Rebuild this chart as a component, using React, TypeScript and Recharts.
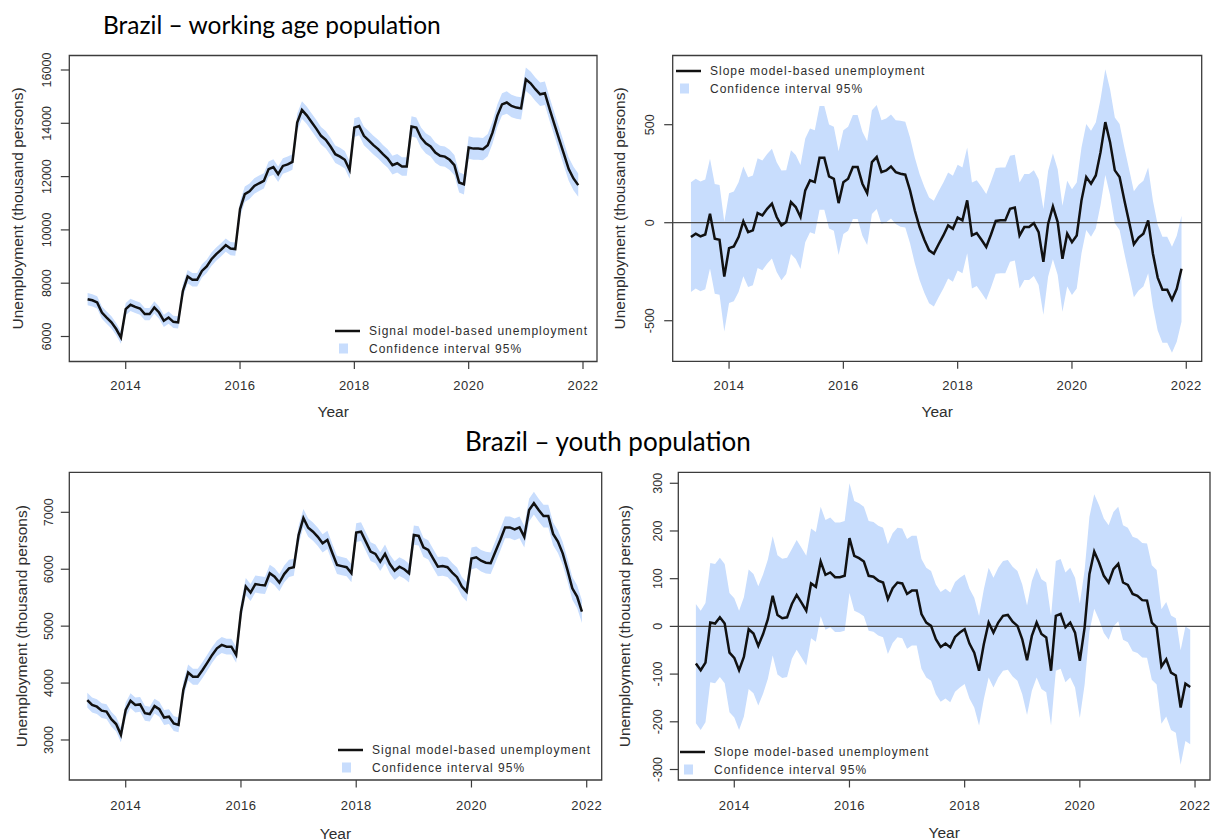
import React from 'react';
import {
  ComposedChart,
  Area,
  Line,
  XAxis,
  YAxis,
  ReferenceArea,
  ReferenceLine,
  Legend,
} from 'recharts';

// monthly estimates, May 2013 – Dec 2021
const firstMonth = 2013 + 4 / 12;
const monthCount = 104;
const months = Array.from({ length: monthCount }, (_, i) => firstMonth + i / 12);

const yearTicks = [2014, 2016, 2018, 2020, 2022];

const workSignalTicks = [6000, 8000, 10000, 12000, 14000, 16000];
const workSlopeTicks = [-500, 0, 500];
const youthSignalTicks = [3000, 4000, 5000, 6000, 7000];
const youthSlopeTicks = [-300, -200, -100, 0, 100, 200, 300];

const signalName = 'Signal model-based unemployment';
const slopeName = 'Slope model-based unemployment';
const ciName = 'Confidence interval 95%';

// working age population – signal (thousand persons)
const workSignal = [
  7400, 7360, 7280, 6900, 6710, 6530, 6280, 5960, 7030, 7190,
  7110, 7050, 6840, 6840, 7090, 6900, 6590, 6710, 6550, 6530,
  7710, 8250, 8130, 8130, 8460, 8630, 8900, 9090, 9250, 9430,
  9300, 9280, 10780, 11340, 11450, 11650, 11750, 11840, 12280, 12360,
  12090, 12400, 12460, 12550, 14030, 14500, 14300, 14050, 13800, 13530,
  13380, 13130, 12840, 12750, 12630, 12250, 13840, 13900, 13530, 13360,
  13180, 13030, 12840, 12680, 12430, 12500, 12380, 12380, 13880, 13840,
  13460, 13250, 13130, 12900, 12780, 12750, 12630, 12430, 11780, 11710,
  13090, 13050, 13050, 13030, 13180, 13650, 14280, 14710, 14780, 14650,
  14590, 14560, 15650, 15500, 15280, 15090, 15130, 14530, 13960, 13400,
  12840, 12280, 11930, 11680,
];
const workSignalLow = [
  7170, 7130, 7050, 6670, 6480, 6300, 6050, 5730, 6800, 6960,
  6880, 6820, 6610, 6610, 6860, 6670, 6360, 6480, 6320, 6300,
  7460, 8000, 7880, 7880, 8210, 8380, 8650, 8840, 9000, 9180,
  9050, 9030, 10490, 11050, 11160, 11360, 11460, 11550, 11990, 12070,
  11800, 12110, 12170, 12260, 13700, 14170, 13970, 13720, 13470, 13200,
  13050, 12800, 12510, 12420, 12300, 11920, 13490, 13550, 13180, 13010,
  12830, 12680, 12490, 12330, 12080, 12150, 12030, 12030, 13500, 13460,
  13080, 12870, 12750, 12520, 12400, 12370, 12250, 12050, 11400, 11330,
  12670, 12630, 12630, 12610, 12760, 13230, 13860, 14290, 14360, 14230,
  14170, 14140, 15210, 15060, 14840, 14650, 14690, 14090, 13520, 12960,
  12400, 11840, 11490, 11240,
];
const workSignalHigh = [
  7630, 7590, 7510, 7130, 6940, 6760, 6510, 6190, 7260, 7420,
  7340, 7280, 7070, 7070, 7320, 7130, 6820, 6940, 6780, 6760,
  7960, 8500, 8380, 8380, 8710, 8880, 9150, 9340, 9500, 9680,
  9550, 9530, 11070, 11630, 11740, 11940, 12040, 12130, 12570, 12650,
  12380, 12690, 12750, 12840, 14360, 14830, 14630, 14380, 14130, 13860,
  13710, 13460, 13170, 13080, 12960, 12580, 14190, 14250, 13880, 13710,
  13530, 13380, 13190, 13030, 12780, 12850, 12730, 12730, 14260, 14220,
  13840, 13630, 13510, 13280, 13160, 13130, 13010, 12810, 12160, 12090,
  13510, 13470, 13470, 13450, 13600, 14070, 14700, 15130, 15200, 15070,
  15010, 14980, 16090, 15940, 15720, 15530, 15570, 14970, 14400, 13840,
  13280, 12720, 12370, 12120,
];

// working age population – slope
const workSlope = [
  -73, -56, -70, -60, 46, -82, -87, -275, -130, -121,
  -73, 7, -48, -39, 49, 37, 71, 97, 29, -14,
  3, 105, 80, 29, 165, 216, 207, 331, 331, 236,
  224, 100, 207, 224, 284, 284, 199, 151, 309, 335,
  258, 267, 287, 258, 250, 245, 165, 63, -22, -87,
  -141, -158, -110, -65, -14, -31, 26, 12, 114, -65,
  -53, -87, -124, -60, 9, 12, 12, 71, 77, -65,
  -22, -22, -2, -48, -200, -5, 83, 3, -184, -56,
  -99, -65, 114, 233, 199, 241, 360, 513, 411, 267,
  233, 114, 3, -110, -76, -56, 12, -158, -280, -342,
  -342, -393, -337, -235,
];
const workSlopeLow = [
  -353, -336, -350, -340, -234, -362, -367, -555, -410, -401,
  -353, -273, -328, -319, -231, -243, -209, -183, -251, -294,
  -262, -160, -185, -236, -100, -49, -58, 66, 66, -29,
  -41, -165, -58, -41, 19, 19, -66, -114, 44, 70,
  -7, 2, 22, -7, -20, -25, -105, -207, -292, -357,
  -411, -428, -380, -335, -284, -301, -244, -258, -156, -335,
  -323, -357, -394, -330, -261, -258, -258, -199, -193, -335,
  -292, -292, -272, -318, -470, -275, -187, -267, -454, -326,
  -369, -335, -156, -37, -71, -29, 90, 243, 141, -3,
  -37, -156, -267, -380, -346, -326, -258, -428, -550, -612,
  -612, -663, -607, -505,
];
const workSlopeHigh = [
  207, 224, 210, 220, 326, 198, 193, 5, 150, 159,
  207, 287, 232, 241, 329, 317, 351, 377, 309, 266,
  268, 370, 345, 294, 430, 481, 472, 596, 596, 501,
  489, 365, 472, 489, 549, 549, 464, 416, 574, 600,
  523, 532, 552, 523, 520, 515, 435, 333, 248, 183,
  129, 112, 160, 205, 256, 239, 296, 282, 384, 205,
  217, 183, 146, 210, 279, 282, 282, 341, 347, 205,
  248, 248, 268, 222, 70, 265, 353, 273, 86, 214,
  171, 205, 384, 503, 469, 511, 630, 783, 681, 537,
  503, 384, 273, 160, 194, 214, 282, 112, -10, -72,
  -72, -123, -67, 35,
];

// youth population – signal
const youthSignal = [
  3700, 3615, 3585, 3515, 3500, 3365, 3280, 3090, 3530, 3690,
  3615, 3625, 3470, 3455, 3595, 3540, 3395, 3410, 3290, 3265,
  3880, 4185, 4110, 4110, 4230, 4360, 4495, 4610, 4670, 4640,
  4640, 4495, 5255, 5695, 5590, 5740, 5725, 5715, 5930, 5870,
  5765, 5915, 6015, 6035, 6600, 6900, 6730, 6660, 6570, 6455,
  6515, 6290, 6075, 6055, 6035, 5930, 6645, 6660, 6485, 6310,
  6270, 6135, 6270, 6090, 5975, 6045, 6000, 5930, 6600, 6585,
  6385, 6340, 6190, 6045, 6055, 6035, 5940, 5860, 5695, 5605,
  6190, 6210, 6150, 6115, 6105, 6310, 6515, 6735, 6735, 6700,
  6735, 6570, 7040, 7160, 7040, 6935, 6935, 6620, 6485, 6280,
  5985, 5665, 5520, 5255,
];
const youthSignalLow = [
  3570, 3485, 3455, 3385, 3370, 3235, 3150, 2960, 3400, 3560,
  3485, 3495, 3340, 3325, 3465, 3410, 3265, 3280, 3160, 3135,
  3740, 4045, 3970, 3970, 4090, 4220, 4355, 4470, 4530, 4500,
  4500, 4355, 5105, 5545, 5440, 5590, 5575, 5565, 5780, 5720,
  5615, 5765, 5865, 5885, 6440, 6740, 6570, 6500, 6410, 6295,
  6355, 6130, 5915, 5895, 5875, 5770, 6480, 6495, 6320, 6145,
  6105, 5970, 6105, 5925, 5810, 5880, 5835, 5765, 6430, 6415,
  6215, 6170, 6020, 5875, 5885, 5865, 5770, 5690, 5525, 5435,
  6000, 6020, 5960, 5925, 5915, 6120, 6325, 6545, 6545, 6510,
  6545, 6380, 6840, 6960, 6840, 6735, 6735, 6420, 6285, 6080,
  5785, 5465, 5320, 5055,
];
const youthSignalHigh = [
  3830, 3745, 3715, 3645, 3630, 3495, 3410, 3220, 3660, 3820,
  3745, 3755, 3600, 3585, 3725, 3670, 3525, 3540, 3420, 3395,
  4020, 4325, 4250, 4250, 4370, 4500, 4635, 4750, 4810, 4780,
  4780, 4635, 5405, 5845, 5740, 5890, 5875, 5865, 6080, 6020,
  5915, 6065, 6165, 6185, 6760, 7060, 6890, 6820, 6730, 6615,
  6675, 6450, 6235, 6215, 6195, 6090, 6810, 6825, 6650, 6475,
  6435, 6300, 6435, 6255, 6140, 6210, 6165, 6095, 6770, 6755,
  6555, 6510, 6360, 6215, 6225, 6205, 6110, 6030, 5865, 5775,
  6380, 6400, 6340, 6305, 6295, 6500, 6705, 6925, 6925, 6890,
  6925, 6760, 7240, 7360, 7240, 7135, 7135, 6820, 6685, 6480,
  6185, 5865, 5720, 5455,
];

// youth population – slope
const youthSlope = [
  -78, -92, -76, 8, 6, 19, 6, -55, -66, -92,
  -64, -6, -15, -41, -16, 15, 64, 24, 17, 19,
  47, 66, 50, 33, 90, 83, 136, 108, 113, 103,
  103, 106, 185, 148, 143, 136, 106, 104, 96, 92,
  57, 80, 92, 90, 68, 75, 75, 26, 8, 1,
  -27, -43, -36, -44, -22, -13, -6, -36, -55, -93,
  -37, 8, -13, 8, 22, 24, 10, 1, -27, -71,
  -20, 8, -16, -23, -93, 22, 26, -2, 8, -13,
  -72, -2, 110, 157, 134, 106, 92, 120, 131, 92,
  87, 68, 64, 55, 54, 8, -2, -84, -69, -97,
  -103, -170, -120, -127,
];
const youthSlopeLow = [
  -203, -217, -201, -117, -119, -106, -119, -180, -191, -217,
  -189, -131, -140, -166, -141, -110, -61, -101, -108, -106,
  -68, -49, -65, -82, -25, -32, 21, -7, -2, -12,
  -12, -9, 70, 33, 28, 21, -9, -11, -19, -23,
  -58, -35, -23, -25, -47, -40, -40, -89, -107, -114,
  -142, -158, -151, -159, -137, -128, -121, -151, -170, -208,
  -152, -107, -128, -107, -93, -91, -105, -114, -142, -186,
  -135, -107, -131, -138, -208, -93, -89, -117, -107, -128,
  -192, -122, -10, 37, 14, -14, -28, 0, 11, -28,
  -33, -52, -56, -65, -66, -112, -122, -204, -189, -217,
  -223, -290, -240, -247,
];
const youthSlopeHigh = [
  47, 33, 49, 133, 131, 144, 131, 70, 59, 33,
  61, 119, 110, 84, 109, 140, 189, 149, 142, 144,
  162, 181, 165, 148, 205, 198, 251, 223, 228, 218,
  218, 221, 300, 263, 258, 251, 221, 219, 211, 207,
  172, 195, 207, 205, 183, 190, 190, 141, 123, 116,
  88, 72, 79, 71, 93, 102, 109, 79, 60, 22,
  78, 123, 102, 123, 137, 139, 125, 116, 88, 44,
  95, 123, 99, 92, 22, 137, 141, 113, 123, 102,
  48, 118, 230, 277, 254, 226, 212, 240, 251, 212,
  207, 188, 184, 175, 174, 128, 118, 36, 51, 23,
  17, -50, 0, -7,
];

const BAND = '#c8ddfd';
const INK = '#111111';
const AXIS = '#3c3c3c';
const TEXT = '#2e2e2e';
const FONT = '"Liberation Sans", Arial, sans-serif';
const TITLE_FONT = "Lato, 'Open Sans', sans-serif";

type Box = { x0: number; x1: number; y0: number; y1: number };

type PanelProps = {
  left: number;
  top: number;
  width: number;
  height: number;
  box: Box;
  xDomain: [number, number];
  yDomain: [number, number];
  yTicks: number[];
  values: number[];
  low: number[];
  high: number[];
  lineName: string;
  zeroLine?: boolean;
  legendAt: [number, number];
  yTickGap: number;
  yTitleX: number;
  yearY: number;
  tickLabelY: number;
};

const Panel = (p: PanelProps) => {
  const rows = months.map((t, i) => ({
    t,
    value: p.values[i],
    band: [p.low[i], p.high[i]],
  }));

  const yAxisWidth = p.box.x0 - p.left;
  const xAxisHeight = p.top + p.height - p.box.y1;
  const margin = {
    top: p.box.y0 - p.top,
    right: p.left + p.width - p.box.x1,
    bottom: 0,
    left: 0,
  };
  const boxMidX = (p.box.x0 + p.box.x1) / 2 - p.left;
  const boxMidY = (p.box.y0 + p.box.y1) / 2 - p.top;

  const xTick = (props: any) => (
    <text
      x={props.x}
      y={p.tickLabelY - p.top + 4.6}
      textAnchor="middle"
      fontSize={13}
      letterSpacing={0.5}
      fill={TEXT}
      fontFamily={FONT}
    >
      {props.payload.value}
    </text>
  );

  const yTick = (props: any) => {
    const cx = p.box.x0 - p.left - p.yTickGap;
    return (
      <text
        x={cx}
        y={props.y}
        transform={`rotate(-90 ${cx} ${props.y})`}
        textAnchor="middle"
        dominantBaseline="central"
        fontSize={12.5}
        fill={TEXT}
        fontFamily={FONT}
      >
        {props.payload.value}
      </text>
    );
  };

  const yearLabel = () => (
    <text
      x={boxMidX}
      y={p.yearY - p.top + 5.5}
      textAnchor="middle"
      fontSize={15.5}
      fill={TEXT}
      fontFamily={FONT}
    >
      Year
    </text>
  );

  const yTitle = () => {
    const x = p.yTitleX - p.left;
    return (
      <text
        x={x}
        y={boxMidY}
        transform={`rotate(-90 ${x} ${boxMidY})`}
        textAnchor="middle"
        dominantBaseline="central"
        fontSize={15.5}
        fill={TEXT}
        fontFamily={FONT}
      >
        Unemployment (thousand persons)
      </text>
    );
  };

  const legendContent = (props: any) => {
    const entries = props.payload || [];
    const lineEntry = entries.find((e: any) => e.type === 'line');
    const bandEntry = entries.find((e: any) => e.type === 'square');
    return (
      <svg width={290} height={36} style={{ display: 'block', overflow: 'visible' }}>
        <line x1={0} x2={25} y1={9} y2={9} stroke={INK} strokeWidth={2.5} />
        <text x={34} y={13} fontSize={12} letterSpacing={1} fill={TEXT} fontFamily={FONT}>
          {lineEntry ? lineEntry.value : p.lineName}
        </text>
        <rect x={4} y={21.5} width={9} height={10} fill={BAND} />
        <text x={34} y={30.5} fontSize={12} letterSpacing={1} fill={TEXT} fontFamily={FONT}>
          {bandEntry ? bandEntry.value : ciName}
        </text>
      </svg>
    );
  };

  return (
    <div style={{ position: 'absolute', left: p.left, top: p.top }}>
      <ComposedChart width={p.width} height={p.height} data={rows} margin={margin}>
        <XAxis
          dataKey="t"
          type="number"
          domain={p.xDomain}
          allowDataOverflow
          ticks={yearTicks}
          interval={0}
          height={xAxisHeight}
          axisLine={false}
          tickSize={7.5}
          tickMargin={0}
          tickLine={{ stroke: AXIS, strokeWidth: 1.2 }}
          tick={xTick}
          label={yearLabel}
        />
        <YAxis
          type="number"
          domain={p.yDomain}
          allowDataOverflow
          ticks={p.yTicks}
          interval={0}
          width={yAxisWidth}
          axisLine={false}
          tickSize={8.5}
          tickMargin={0}
          tickLine={{ stroke: AXIS, strokeWidth: 1.2 }}
          tick={yTick}
          label={yTitle}
        />
        <Area
          dataKey="band"
          name={ciName}
          type="linear"
          stroke="none"
          fill={BAND}
          fillOpacity={1}
          legendType="square"
          activeDot={false}
          isAnimationActive={false}
        />
        {p.zeroLine && <ReferenceLine y={0} stroke="#4a4a4a" strokeWidth={1.2} />}
        <Line
          dataKey="value"
          name={p.lineName}
          type="linear"
          stroke={INK}
          strokeWidth={2.5}
          dot={false}
          activeDot={false}
          legendType="line"
          isAnimationActive={false}
        />
        <ReferenceArea
          x1={p.xDomain[0]}
          x2={p.xDomain[1]}
          y1={p.yDomain[0]}
          y2={p.yDomain[1]}
          fill="none"
          stroke={AXIS}
          strokeWidth={1.3}
          ifOverflow="visible"
        />
        <Legend
          layout="vertical"
          align="center"
          verticalAlign="middle"
          content={legendContent}
          wrapperStyle={{
            left: p.legendAt[0] - p.left,
            top: p.legendAt[1] - 9 - p.top,
            width: 290,
            height: 36,
          }}
        />
      </ComposedChart>
    </div>
  );
};

const App = () => {
  return (
    <div
      style={{
        position: 'absolute',
        left: 0,
        top: 0,
        width: 1211,
        height: 840,
        background: '#ffffff',
        overflow: 'hidden',
      }}
    >
      <svg
        width={1211}
        height={840}
        style={{ position: 'absolute', left: 0, top: 0 }}
      >
        <text x={103} y={34} fontSize={24.5} fill="#000" fontFamily={TITLE_FONT}>
          Brazil – working age population
        </text>
        <text x={465} y={451} fontSize={26} fill="#000" fontFamily={TITLE_FONT}>
          Brazil – youth population
        </text>
      </svg>

      <Panel
        left={0}
        top={40}
        width={605}
        height={380}
        box={{ x0: 69.3, x1: 597, y0: 55.5, y1: 361.5 }}
        xDomain={[2013.013, 2022.245]}
        yDomain={[5062, 16544]}
        yTicks={workSignalTicks}
        values={workSignal}
        low={workSignalLow}
        high={workSignalHigh}
        lineName={signalName}
        legendAt={[335, 331]}
        yTickGap={22.6}
        yTitleX={17.5}
        yearY={411}
        tickLabelY={385}
      />
      <Panel
        left={600}
        top={40}
        width={611}
        height={380}
        box={{ x0: 672.7, x1: 1201.7, y0: 55.5, y1: 361.3 }}
        xDomain={[2013.014, 2022.27]}
        yDomain={[-707, 853]}
        yTicks={workSlopeTicks}
        values={workSlope}
        low={workSlopeLow}
        high={workSlopeHigh}
        lineName={slopeName}
        zeroLine
        legendAt={[676, 71]}
        yTickGap={22.7}
        yTitleX={620}
        yearY={411}
        tickLabelY={385}
      />
      <Panel
        left={0}
        top={440}
        width={605}
        height={400}
        box={{ x0: 69.3, x1: 601.7, y0: 472.3, y1: 780 }}
        xDomain={[2013.021, 2022.26]}
        yDomain={[2297, 7703]}
        yTicks={youthSignalTicks}
        values={youthSignal}
        low={youthSignalLow}
        high={youthSignalHigh}
        lineName={signalName}
        legendAt={[338, 750]}
        yTickGap={20.3}
        yTitleX={21.7}
        yearY={833}
        tickLabelY={805}
      />
      <Panel
        left={600}
        top={440}
        width={611}
        height={400}
        box={{ x0: 678.3, x1: 1210, y0: 472.3, y1: 780 }}
        xDomain={[2013.028, 2022.26]}
        yDomain={[-322, 323]}
        yTicks={youthSlopeTicks}
        values={youthSlope}
        low={youthSlopeLow}
        high={youthSlopeHigh}
        lineName={slopeName}
        zeroLine
        legendAt={[680, 752]}
        yTickGap={20.3}
        yTitleX={625}
        yearY={832}
        tickLabelY={805}
      />
    </div>
  );
};

export default App;
